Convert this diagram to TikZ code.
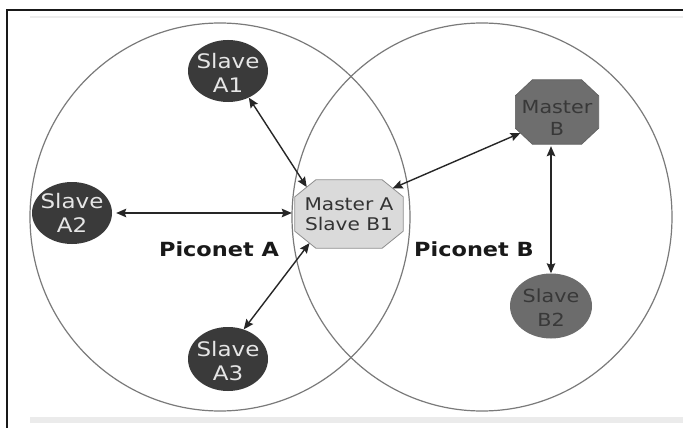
\documentclass[tikz,border=0pt]{standalone}
\usepackage{fontspec}
\setmainfont{DejaVu Sans}[FakeStretch=1.15]
\usetikzlibrary{shapes.geometric,arrows.meta,calc}
\definecolor{dkA}{HTML}{3A3A3A}
\definecolor{txtA}{HTML}{E6E6E6}
\definecolor{maFill}{HTML}{DADADA}
\definecolor{maDraw}{HTML}{8E8E8E}
\definecolor{mbFill}{HTML}{6E6E6E}
\definecolor{bFill}{HTML}{6C6C6C}
\definecolor{txtB}{HTML}{383838}
\definecolor{circCol}{HTML}{7A7A7A}
\pgfdeclarelayer{bg}
\pgfsetlayers{bg,main}
\newcommand\octoShape[4]{% node, hcut, vcut, style
  \path[#4] ([xshift=#2]#1.north west) -- ([xshift=-#2]#1.north east)
    -- ([yshift=-#3]#1.north east) -- ([yshift=#3]#1.south east)
    -- ([xshift=-#2]#1.south east) -- ([xshift=#2]#1.south west)
    -- ([yshift=#3]#1.south west) -- ([yshift=-#3]#1.north west) -- cycle;}
\begin{document}
\begin{tikzpicture}[x=1pt,y=-1pt,
  circ/.style={draw=circCol, line width=1.2pt},
  slaveA/.style={ellipse, fill=dkA, minimum width=80pt, minimum height=62pt, inner sep=0pt},
  slaveB/.style={ellipse, fill=bFill, minimum width=82pt, minimum height=65pt, inner sep=0pt},
  masterBox/.style={rectangle, align=center, inner sep=0pt},
  octoA/.style={fill=maFill, draw=maDraw, line width=0.8pt},
  octoB/.style={fill=mbFill, draw=mbFill!85!black, line width=0.6pt},
  txtLight/.style={align=center, text=txtA, inner sep=0pt, font=\fontsize{20}{24}\selectfont},
  txtDarkA/.style={text=black!80, font=\fontsize{17.5}{20}\selectfont},
  txtDarkB/.style={align=center, text=txtB, inner sep=0pt, font=\fontsize{18}{22}\selectfont},
  txtDarkC/.style={align=center, text=txtB, inner sep=0pt, font=\fontsize{18}{24}\selectfont},
  piconet/.style={anchor=base, inner sep=0pt, text=black!90, font=\fontsize{19.5}{22}\selectfont\bfseries},
  conn/.style={draw=black!85, line width=1.4pt,
     {Stealth[length=10pt,width=8.5pt,inset=1.5pt]}-{Stealth[length=10pt,width=8.5pt,inset=1.5pt]}}
]
\useasboundingbox (0,0) rectangle (683,428);
\begin{pgfonlayer}{bg}
\fill[white] (0,0) rectangle (683,428);
% frame
\fill[black!8] (30,417) rectangle (683,423);
\draw[line width=1.5pt, black!7] (30,17) -- (683,17);
\draw[line width=2.5pt, black!90] (7,428) -- (7,10) -- (683,10);
% piconet circles
\draw[circ] (220,217) ellipse [x radius=190pt, y radius=194pt];
\draw[circ] (482,217) ellipse [x radius=190pt, y radius=194pt];
\end{pgfonlayer}
% nodes
\node[slaveA, label={[txtLight,yshift=-1.5pt]center:{Slave\\A1}}] (A1) at (228,71) {};
\node[slaveA, label={[txtLight]center:{Slave\\A2}}] (A2) at (72,213) {};
\node[slaveA, minimum height=64pt, label={[txtLight,yshift=-2pt]center:{Slave\\A3}}] (A3) at (228,359) {};
\node[masterBox, txtDarkA, minimum width=108pt, minimum height=68pt] (MA) at (349,214) {Master A\\Slave B1};
\node[masterBox, minimum width=83pt, minimum height=64pt, label={[txtDarkB,yshift=-6pt]center:{Master\\B}}] (MB) at (557,112) {};
\node[slaveB, label={[txtDarkC,yshift=-2pt]center:{Slave\\B2}}] (B2) at (551,306) {};
\node[piconet] (PA) at (219,256) {Piconet A};
\node[piconet] (PB) at (474,256) {Piconet B};
\begin{pgfonlayer}{bg}
\octoShape{MA}{21pt}{17pt}{octoA}
\octoShape{MB}{17pt}{16pt}{octoB}
\end{pgfonlayer}
% connector ends on the chamfers
\coordinate (MAtl) at ($([yshift=-17pt]MA.north west)!0.57!([xshift=21pt]MA.north west)$);
\coordinate (MAbl) at ($([yshift=17pt]MA.south west)!0.7!([xshift=21pt]MA.south west)$);
\coordinate (MAtr) at ($([xshift=-21pt]MA.north east)!0.5!([yshift=-17pt]MA.north east)$);
\coordinate (MBbl) at ($([yshift=16pt]MB.south west)!0.3!([xshift=17pt]MB.south west)$);
% connectors
\draw[conn] (A1.-52) -- (MAtl);
\draw[conn, shorten <=4pt, shorten >=3pt] (A2.east) -- (A2.east -| MA.west);
\draw[conn] (A3.62) -- (MAbl);
\draw[conn] (MAtr) -- (MBbl);
\draw[conn, shorten >=2pt] (B2.north) -- (B2.north |- MB.south);
\end{tikzpicture}
\end{document}
